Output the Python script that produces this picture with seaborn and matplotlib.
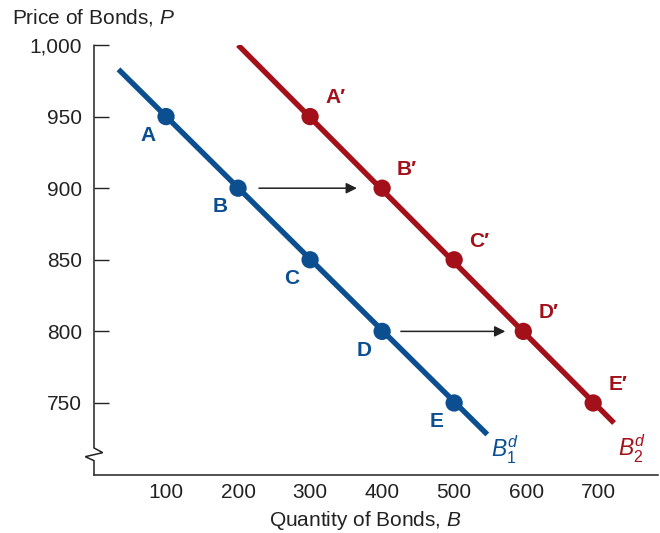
import matplotlib
matplotlib.use("Agg")
import matplotlib.pyplot as plt
import matplotlib.transforms as mtransforms
import seaborn as sns
import pandas as pd

# ---- data ----
bd1_quantity = [100, 200, 300, 400, 500]
bd1_price = [950, 900, 850, 800, 750]
bd1_labels = ["A", "B", "C", "D", "E"]
bd1_line_quantity = [34, 546]
bd1_line_price = [983, 728]

bd2_quantity = [300, 400, 500, 596, 693]
bd2_price = [950, 900, 850, 800, 750]
bd2_labels = ["A\u2032", "B\u2032", "C\u2032", "D\u2032", "E\u2032"]
bd2_line_quantity = [200, 722]
bd2_line_price = [1000, 736]

arrow_start_quantity = [229, 426]
arrow_end_quantity = [365, 571]
arrow_price = [900, 800]

x_ticks = [100, 200, 300, 400, 500, 600, 700]
y_ticks = [750, 800, 850, 900, 950, 1000]
y_tick_labels = ["750", "800", "850", "900", "950", "1,000"]

BLUE = "#0b4f91"
RED = "#a3101a"

sns.set_theme(style="white")
plt.rcParams["font.family"] = ["Liberation Sans", "DejaVu Sans"]
plt.rcParams["mathtext.fontset"] = "custom"
plt.rcParams["mathtext.rm"] = "Liberation Sans"
plt.rcParams["mathtext.it"] = "Liberation Sans:italic"
plt.rcParams["mathtext.bf"] = "Liberation Sans:bold"

fig = plt.figure(figsize=(6.6, 5.33), dpi=100)
ax = fig.add_axes([94 / 660, 58 / 533, 564 / 660, 430 / 533])

df1 = pd.DataFrame({"q": bd1_line_quantity, "p": bd1_line_price})
df2 = pd.DataFrame({"q": bd2_line_quantity, "p": bd2_line_price})
sns.lineplot(data=df1, x="q", y="p", ax=ax, color=BLUE, lw=3.9,
             solid_capstyle="butt", sort=False)
sns.lineplot(data=df2, x="q", y="p", ax=ax, color=RED, lw=3.9,
             solid_capstyle="butt", sort=False)

p1 = pd.DataFrame({"q": bd1_quantity, "p": bd1_price})
p2 = pd.DataFrame({"q": bd2_quantity, "p": bd2_price})
sns.scatterplot(data=p1, x="q", y="p", ax=ax, color=BLUE, s=155,
                edgecolor="none", zorder=5)
sns.scatterplot(data=p2, x="q", y="p", ax=ax, color=RED, s=155,
                edgecolor="none", zorder=5)

for q, p, lab in zip(bd1_quantity, bd1_price, bd1_labels):
    ax.annotate(lab, (q, p), xytext=(-13, -13.5), textcoords="offset points",
                ha="center", va="center", color=BLUE, fontsize=15,
                fontweight="bold")
for q, p, lab in zip(bd2_quantity, bd2_price, bd2_labels):
    ax.annotate(lab, (q, p), xytext=(18, 13.5), textcoords="offset points",
                ha="center", va="center", color=RED, fontsize=15,
                fontweight="bold")

for qs, qe, p in zip(arrow_start_quantity, arrow_end_quantity, arrow_price):
    ax.annotate("", xy=(qe, p), xytext=(qs, p),
                arrowprops=dict(arrowstyle="-|>", color="#222222", lw=1.1,
                                mutation_scale=16, shrinkA=0, shrinkB=0))

ax.text(571, 717, r"$B_1^d$", color=BLUE, fontsize=16.5, ha="center", va="center")
ax.text(747, 718, r"$B_2^d$", color=RED, fontsize=16.5, ha="center", va="center")

ax.set_xlim(0, 783)
ax.set_ylim(699.7, 1000)
ax.set_xticks(x_ticks)
ax.set_xticklabels([str(v) for v in x_ticks])
ax.set_yticks(y_ticks)
ax.set_yticklabels(y_tick_labels)
ax.set_xlabel("")
ax.set_ylabel("")

for s in ["top", "right", "left"]:
    ax.spines[s].set_visible(False)
ax.spines["bottom"].set_linewidth(1.1)
ax.spines["bottom"].set_color("#222222")

ax.tick_params(axis="x", direction="in", length=11.5, width=1.0,
               colors="#222222", labelsize=15, pad=5.5, labelcolor="#222222")
ax.tick_params(axis="y", direction="in", length=10.8, width=1.0,
               colors="#222222", labelsize=15, pad=8.5, labelcolor="#222222",
               left=True)

# left axis with break
trans = mtransforms.blended_transform_factory(ax.transAxes, ax.transData)
dx = 8.7 / 564
ax.plot([0, 0, dx, -dx, 0, 0],
        [1000, 718.6, 715.3, 712.5, 709.7, 699.7],
        transform=trans, color="#222222", lw=1.1, clip_on=False,
        solid_joinstyle="miter")

fig.text(12 / 660, 1 - 17 / 533, r"Price of Bonds, $P$", ha="left",
         va="center", fontsize=15, color="#222222")
fig.text(365 / 660, 1 - 520 / 533, r"Quantity of Bonds, $B$", ha="center",
         va="center", fontsize=15, color="#222222")

fig.savefig("out.png", dpi=100)
